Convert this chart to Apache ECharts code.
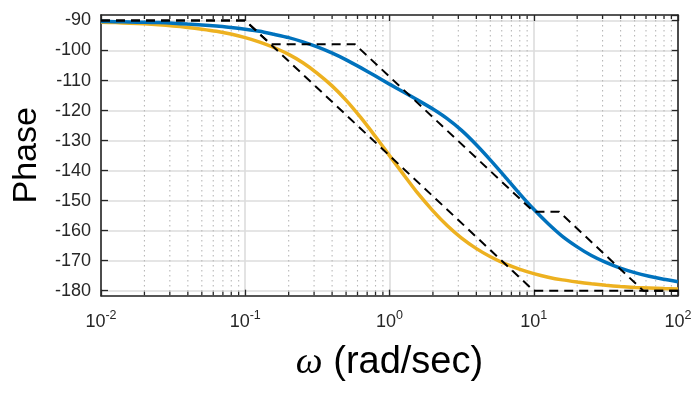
<!DOCTYPE html>
<html>
<head>
<meta charset="utf-8">
<script src="https://cdn.jsdelivr.net/npm/echarts@6/dist/echarts.min.js"></script>
<style>html,body{margin:0;padding:0;background:#fff}#c{width:696px;height:394px}</style>
</head>
<body>
<div id="c"></div>
<script>
// Frequency samples (rad/sec)
const omega = [0.01, 0.0126, 0.0158, 0.02, 0.0251, 0.0316, 0.0398, 0.0501, 0.0631, 0.0794,
  0.1, 0.126, 0.158, 0.2, 0.251, 0.316, 0.398, 0.501, 0.631, 0.794,
  1, 1.26, 1.58, 2, 2.51, 3.16, 3.98, 5.01, 6.31, 7.94,
  10, 12.6, 15.8, 20, 25.1, 31.6, 39.8, 50.1, 63.1, 79.4, 100];
// Phase curves (deg)
const phaseBlue = [-90.3, -90.4, -90.5, -90.6, -90.7, -90.9, -91.2, -91.5, -91.8, -92.3,
  -92.9, -93.6, -94.6, -95.7, -97.1, -98.8, -100.8, -103.1, -105.7, -108.4,
  -111.2, -113.9, -116.6, -119.5, -122.7, -126.6, -131.3, -136.5, -142.0, -147.6,
  -152.9, -157.7, -161.9, -165.4, -168.3, -170.6, -172.5, -174.0, -175.2, -176.2, -177.0];
const phaseYellow = [-90.6, -90.7, -90.9, -91.1, -91.4, -91.8, -92.3, -92.9, -93.6, -94.5,
  -95.7, -97.2, -99.0, -101.3, -104.1, -107.6, -111.7, -116.6, -122.3, -128.5,
  -135.0, -141.5, -147.7, -153.4, -158.3, -162.5, -165.9, -168.7, -171.0, -172.8,
  -174.3, -175.5, -176.4, -177.1, -177.7, -178.2, -178.6, -178.9, -179.1, -179.3, -179.4];
// Straight-line asymptotes (dashed)
const asymBlueW = [0.01, 0.1, 0.15, 0.575, 10, 15, 57.5, 100];
const asymBlueP = [-90, -90, -97.9, -97.9, -153.7, -153.7, -180, -180];
const asymYellowW = [0.01, 0.1, 10, 100];
const asymYellowP = [-90, -90, -180, -180];
// Axis ranges and ticks
const xMin = 0.01, xMax = 100;
const yMin = -181.67, yMax = -88.17;
const minorTicks = [0.02,0.03,0.04,0.05,0.06,0.07,0.08,0.09,0.2,0.3,0.4,0.5,0.6,0.7,0.8,0.9,2,3,4,5,6,7,8,9,20,30,40,50,60,70,80,90];

const zip = (a, b) => a.map((v, i) => [v, b[i]]);
const axisColor = '#262626';
const font = 'Liberation Sans, Arial, Helvetica, sans-serif';

const chart = echarts.init(document.getElementById('c'), null, {renderer: 'canvas'});
chart.setOption({
  animation: false,
  backgroundColor: '#fff',
  textStyle: {fontFamily: font},
  grid: {left: 101, right: 18, top: 15, bottom: 98.3, containLabel: false},
  xAxis: [{
    type: 'log', logBase: 10, min: xMin, max: xMax, position: 'bottom',
    axisLine: {show: true, lineStyle: {color: axisColor, width: 1.6}},
    axisTick: {show: true, inside: true, length: 6, lineStyle: {color: axisColor, width: 1.3}},
    splitLine: {show: true, lineStyle: {color: '#dcdcdc', width: 1.6}},
    axisLabel: {
      margin: 13, color: axisColor,
      formatter: v => '{b|10}{s|' + Math.round(Math.log10(v)) + '}',
      rich: {
        b: {fontSize: 18, fontFamily: font, color: axisColor, verticalAlign: 'bottom', lineHeight: 22},
        s: {fontSize: 12.5, fontFamily: font, color: axisColor, verticalAlign: 'top', lineHeight: 22}
      }
    },
    name: '{w|ω} (rad/sec)', nameLocation: 'middle', nameGap: 48,
    nameTextStyle: {
      fontSize: 38, color: '#000', fontFamily: font,
      rich: {w: {fontSize: 38, fontFamily: 'Liberation Serif, Times New Roman, serif', fontStyle: 'italic', color: '#000'}}
    }
  }, {
    type: 'log', logBase: 10, min: xMin, max: xMax, position: 'top',
    axisLine: {show: true, lineStyle: {color: axisColor, width: 1.6}},
    axisTick: {show: true, inside: true, length: 6, lineStyle: {color: axisColor, width: 1.3}},
    splitLine: {show: false}, axisLabel: {show: false}
  }],
  yAxis: [{
    type: 'value', min: yMin, max: yMax, splitNumber: 9, position: 'left',
    axisLine: {show: true, lineStyle: {color: axisColor, width: 1.6}},
    axisTick: {show: true, inside: true, length: 7, lineStyle: {color: axisColor, width: 1.3}},
    splitLine: {show: true, lineStyle: {color: '#dcdcdc', width: 1.6}},
    axisLabel: {fontSize: 18, color: axisColor, margin: 10, showMinLabel: false, showMaxLabel: false, fontFamily: font},
    name: 'Phase', nameLocation: 'middle', nameGap: 57, nameRotate: 90,
    nameTextStyle: {fontSize: 34, color: '#000', fontFamily: font}
  }, {
    type: 'value', min: yMin, max: yMax, splitNumber: 9, position: 'right',
    axisLine: {show: true, lineStyle: {color: axisColor, width: 1.6}},
    axisTick: {show: true, inside: true, length: 7, lineStyle: {color: axisColor, width: 1.3}},
    splitLine: {show: false}, axisLabel: {show: false}
  }],
  series: [{
    type: 'custom', xAxisIndex: 0, yAxisIndex: 0, silent: true,
    data: minorTicks.map(v => [v, -135]),
    encode: {x: 0, y: 1},
    renderItem: (params, api) => {
      const cs = params.coordSys;
      const x = api.coord([api.value(0), -135])[0];
      const top = cs.y, bot = cs.y + cs.height;
      return {type: 'group', children: [
        {type: 'line', shape: {x1: x, y1: top, x2: x, y2: bot}, style: {stroke: '#b8b8b8', lineWidth: 1.1, lineDash: [1.5, 3.5]}},
        {type: 'line', shape: {x1: x, y1: bot, x2: x, y2: bot - 4}, style: {stroke: axisColor, lineWidth: 1.3}},
        {type: 'line', shape: {x1: x, y1: top, x2: x, y2: top + 4}, style: {stroke: axisColor, lineWidth: 1.3}}
      ]};
    }
  }, {
    type: 'line', data: zip(omega, phaseYellow), smooth: 0.2, showSymbol: false,
    lineStyle: {color: '#EDB120', width: 3.5}, itemStyle: {color: '#EDB120'}
  }, {
    type: 'line', data: zip(omega, phaseBlue), smooth: 0.2, showSymbol: false,
    lineStyle: {color: '#0072BD', width: 3.5}, itemStyle: {color: '#0072BD'}
  }, {
    type: 'line', data: zip(asymBlueW, asymBlueP), showSymbol: false,
    lineStyle: {color: '#000', width: 2, type: [9, 6]}
  }, {
    type: 'line', data: zip(asymYellowW, asymYellowP), showSymbol: false,
    lineStyle: {color: '#000', width: 2, type: [9, 6]}
  }]
});
</script>
</body>
</html>
